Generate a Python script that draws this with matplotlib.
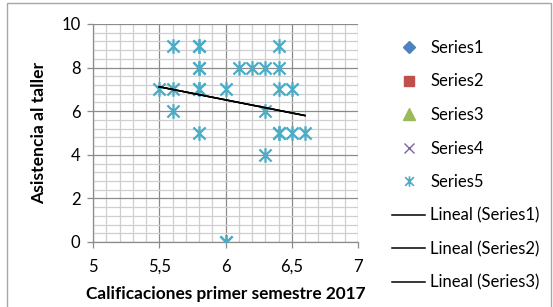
import numpy as np
import matplotlib
matplotlib.use("Agg")
import matplotlib.pyplot as plt
from matplotlib.lines import Line2D
from matplotlib.path import Path
from matplotlib.ticker import MultipleLocator, FixedLocator, FixedFormatter

plt.rcParams['font.family'] = ['Lato', 'DejaVu Sans']

# Series5 data (Calificaciones, Asistencia)
x_vals = [5.5, 5.6, 5.8, 5.6, 5.6, 5.8, 5.8, 5.8, 5.8, 5.8, 5.8, 6.0, 6.0, 6.0,
          6.1, 6.2, 6.3, 6.4, 6.4, 6.3, 6.3, 6.4, 6.5, 6.4, 6.4, 6.5, 6.6]
y_vals = [7, 7, 7, 9, 6, 9, 9, 8, 8, 7, 5, 7, 0, 0,
          8, 8, 8, 8, 9, 6, 4, 7, 7, 5, 5, 5, 5]

series_names = ["Series1", "Series2", "Series3", "Series4", "Series5"]
trend_names = ["Lineal (Series1)", "Lineal (Series2)", "Lineal (Series3)"]
xtick_vals = [5, 5.5, 6, 6.5, 7]
xtick_labels = ["5", "5,5", "6", "6,5", "7"]
ytick_vals = [0, 2, 4, 6, 8, 10]

colors = ["#4F81BD", "#C0504D", "#9BBB59", "#8064A2", "#4BACC6"]

# asterisk marker: X plus vertical line
ast = Path([(-1, -1), (1, 1), (-1, 1), (1, -1), (0, -1.2), (0, 1.2)],
           [Path.MOVETO, Path.LINETO, Path.MOVETO, Path.LINETO, Path.MOVETO, Path.LINETO])

W, H = 553, 307
fig = plt.figure(figsize=(W / 100, H / 100), dpi=100)
ax = fig.add_axes([93 / W, (H - 242) / H, (358 - 93) / W, (242 - 24) / H])

# chart border
fig.patches.append(plt.Rectangle((7 / W, -0.05), (551 - 7) / W, (H - 3) / H + 0.05,
                                 transform=fig.transFigure, fill=False,
                                 edgecolor="#A6A6A6", linewidth=1.0))

ax.set_xlim(5, 7)
ax.set_ylim(0, 10)
ax.xaxis.set_major_locator(FixedLocator(xtick_vals))
ax.xaxis.set_major_formatter(FixedFormatter(xtick_labels))
ax.yaxis.set_major_locator(FixedLocator(ytick_vals))
ax.xaxis.set_minor_locator(MultipleLocator(0.1))
ax.yaxis.set_minor_locator(MultipleLocator(0.4))
ax.grid(which="minor", color="#CFCFCF", linewidth=0.9)
ax.grid(which="major", color="#8C8C8C", linewidth=0.9)
ax.set_axisbelow(True)
for s in ["top", "right"]:
    ax.spines[s].set_visible(False)
for s in ["left", "bottom"]:
    ax.spines[s].set_color("#8C8C8C")
    ax.spines[s].set_linewidth(0.9)
ax.tick_params(which="major", direction="out", length=4, width=0.9, color="#8C8C8C",
               labelsize=12, labelcolor="#000000")
ax.tick_params(axis="y", pad=5)
ax.tick_params(axis="x", pad=8)
ax.tick_params(which="minor", length=0)

ax.plot(x_vals, y_vals, linestyle="none", marker=ast, markersize=10.5,
        markeredgecolor=colors[4], markerfacecolor="none", markeredgewidth=1.6,
        zorder=3)

# linear trendline
coef = np.polyfit(x_vals, y_vals, 1)
tx = np.array([min(x_vals), max(x_vals)])
for _ in trend_names:
    ax.plot(tx, np.polyval(coef, tx), color="black", linewidth=1.1, zorder=4)

ax.set_xlabel("Calificaciones primer semestre 2017", fontsize=12.4, fontweight="bold",
              labelpad=8)
ax.set_ylabel("Asistencia al taller", fontsize=12.6, fontweight="bold", labelpad=10)

handles = [
    Line2D([], [], linestyle="none", marker="D", markersize=6.5, color=colors[0]),
    Line2D([], [], linestyle="none", marker="s", markersize=7.5, color=colors[1]),
    Line2D([], [], linestyle="none", marker="^", markersize=8, color=colors[2]),
    Line2D([], [], linestyle="none", marker="x", markersize=7.5, color=colors[3],
           markeredgewidth=1.0),
    Line2D([], [], linestyle="none", marker=ast, markersize=7.5, color=colors[4],
           markerfacecolor="none", markeredgewidth=1.2),
]
for _ in trend_names:
    handles.append(Line2D([], [], color="black", linewidth=1.1))
labels = series_names + trend_names
leg = fig.legend(handles, labels, loc="upper left", bbox_to_anchor=(392 / W, 1 - 40 / H),
                 frameon=False, fontsize=12, handlelength=2.0, handletextpad=0.3,
                 labelspacing=1.05, borderaxespad=0, borderpad=0)

fig.savefig("out.png", dpi=100)
